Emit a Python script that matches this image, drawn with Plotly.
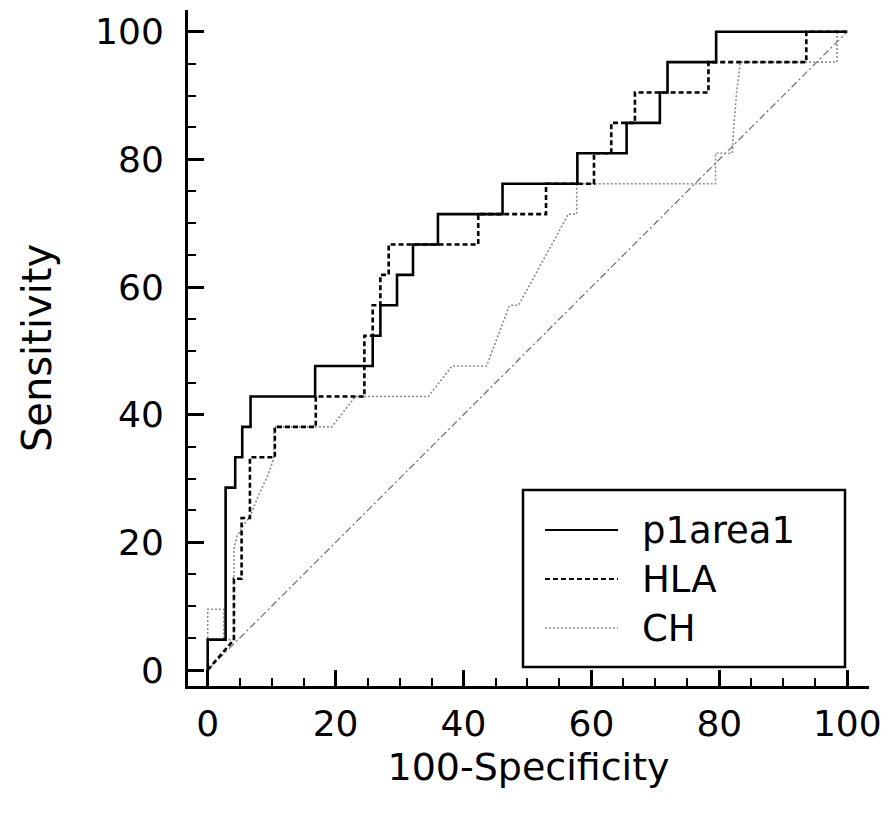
import plotly.graph_objects as go

# ---------------- data ----------------
series_names = ["p1area1", "HLA", "CH"]

# p1area1 ROC curve vertices (100-Specificity, Sensitivity)
p1_fpr = [0, 0, 2.8, 2.8, 4.3, 4.3, 5.4, 5.4, 6.7, 6.7, 16.8, 16.8, 25.8, 25.8,
          27.0, 27.0, 29.6, 29.6, 32.1, 32.1, 36.0, 36.0, 46.1, 46.1, 57.8, 57.8,
          65.5, 65.5, 70.7, 70.7, 71.9, 71.9, 79.5, 79.5, 100]
p1_sens = [0, 4.76, 4.76, 28.57, 28.57, 33.33, 33.33, 38.10, 38.10, 42.86, 42.86, 47.62,
           47.62, 52.38, 52.38, 57.14, 57.14, 61.90, 61.90, 66.67, 66.67, 71.43, 71.43,
           76.19, 76.19, 80.95, 80.95, 85.71, 85.71, 90.48, 90.48, 95.24, 95.24, 100, 100]

# HLA ROC curve vertices
hla_fpr = [0, 4.1, 4.1, 5.3, 5.3, 6.6, 6.6, 10.5, 10.5, 16.9, 16.9, 24.5, 24.5, 25.8,
           25.8, 27.0, 27.0, 28.3, 28.3, 42.3, 42.3, 52.9, 52.9, 60.4, 60.4, 63.1,
           63.1, 66.8, 66.8, 78.3, 78.3, 93.6, 93.6, 100]
hla_sens = [0, 4.76, 14.29, 14.29, 23.81, 23.81, 33.33, 33.33, 38.10, 38.10, 42.86, 42.86,
            52.38, 52.38, 57.14, 57.14, 61.90, 61.90, 66.67, 66.67, 71.43, 71.43, 76.19,
            76.19, 80.95, 80.95, 85.71, 85.71, 90.48, 90.48, 95.24, 95.24, 100, 100]

# CH ROC curve vertices
ch_fpr = [0, 0, 2.5, 2.5, 4.1, 4.1, 4.6, 5.5, 6.6, 8.0, 9.4, 10.4, 10.4, 19.4, 23.1,
          34.5, 38.2, 43.6, 47.2, 48.6, 56.4, 57.7, 57.7, 79.4, 79.4, 82.0, 82.3,
          82.7, 83.3, 98.4, 98.4, 100]
ch_sens = [0, 9.52, 9.52, 4.76, 4.76, 19.05, 21.0, 22.6, 24.0, 27.5, 30.5, 33.33, 38.10,
           38.10, 42.86, 42.86, 47.62, 47.62, 57.14, 57.14, 71.43, 71.43, 76.19, 76.19,
           80.95, 80.95, 85.71, 90.48, 95.24, 95.24, 100, 100]

# reference (chance) diagonal
diag_x = [0, 100]
diag_y = [0, 100]

tick_vals = [0, 20, 40, 60, 80, 100]

# ---------------- styles ----------------
styles = {
    "p1area1": dict(color="black", width=2.6, dash="solid"),
    "HLA": dict(color="black", width=2.6, dash="5px,3px"),
    "CH": dict(color="#8c8c8c", width=1.6, dash="2px,2px"),
}
FONT = "DejaVu Sans"

fig = go.Figure()
fig.add_trace(go.Scatter(x=diag_x, y=diag_y, mode="lines", showlegend=False,
                         line=dict(color="#6e6e6e", width=1.2, dash="7px,3px,2px,3px"),
                         hoverinfo="skip"))
for name, xs, ys in [("CH", ch_fpr, ch_sens), ("HLA", hla_fpr, hla_sens),
                     ("p1area1", p1_fpr, p1_sens)]:
    fig.add_trace(go.Scatter(x=xs, y=ys, mode="lines", name=name, showlegend=False,
                             line=styles[name]))

# ---------------- layout ----------------
W, H = 887, 816
ML, MR, MT, MB = 188, 18, 10, 130
PW, PH = W - ML - MR, H - MT - MB

axis_common = dict(
    tickvals=tick_vals, ticks="inside", ticklen=16, tickwidth=2.5, tickcolor="black",
    showline=True, linewidth=3, linecolor="black", showgrid=False, zeroline=False,
    minor=dict(dtick=5, tick0=0, ticks="inside", ticklen=8, tickwidth=2,
               tickcolor="black", showgrid=False),
    tickfont=dict(family=FONT, size=36, color="black"),
    automargin=False,
)

fig.update_layout(
    width=W, height=H,
    margin=dict(l=ML, r=MR, t=MT, b=MB, autoexpand=False),
    plot_bgcolor="white", paper_bgcolor="white",
    font=dict(family=FONT, size=36, color="black"),
    xaxis=dict(range=[-3.08, 103.4], **axis_common, ticklabelstandoff=4,
               title=dict(text="100-Specificity", standoff=11,
                          font=dict(family=FONT, size=38, color="black"))),
    yaxis=dict(range=[-2.5, 103.4], **axis_common, ticklabelstandoff=14,
               title=dict(text="Sensitivity", standoff=32,
                          font=dict(family=FONT, size=40, color="black"))),
    showlegend=False,
)

# ---------------- legend box (drawn manually to match the original layout) ----------------
def px_x(p):
    return (p - ML) / PW

def px_y(p):
    return (H - MB - p) / PH

shapes = [dict(type="rect", xref="paper", yref="paper",
               x0=px_x(523), x1=px_x(845), y0=px_y(667), y1=px_y(490),
               line=dict(color="black", width=2.5), fillcolor="white", layer="above")]
annotations = []
row_y = [530, 579, 628]
for name, ry in zip(series_names, row_y):
    st = styles[name]
    shapes.append(dict(type="line", xref="paper", yref="paper",
                       x0=px_x(545), x1=px_x(618), y0=px_y(ry), y1=px_y(ry),
                       line=dict(color=st["color"], width=min(st["width"], 2.2),
                                 dash=st["dash"]), layer="above"))
    annotations.append(dict(xref="paper", yref="paper", x=px_x(640), y=px_y(ry),
                            text=name, showarrow=False, xanchor="left", yanchor="middle",
                            font=dict(family=FONT, size=37, color="black")))
fig.update_layout(shapes=shapes, annotations=annotations)

fig.write_html("out.html", config={"displayModeBar": False},
               post_script="document.body.style.margin='0';document.body.style.padding='0';")
